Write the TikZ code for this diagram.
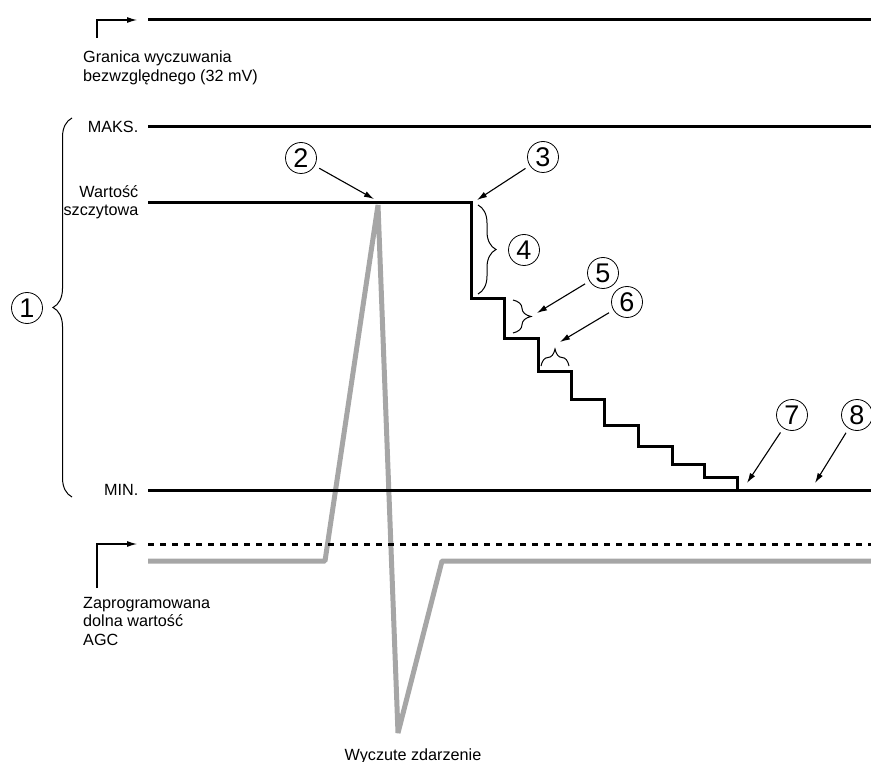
\documentclass[tikz,border=0pt]{standalone}
\usepackage{fontspec}
\setmainfont{Liberation Sans}
\usetikzlibrary{decorations.pathreplacing,arrows.meta}
\definecolor{signalgray}{gray}{0.65}

\begin{document}
\begin{tikzpicture}[x=1pt,y=-1pt,line join=miter]
    \tikzstyle{level}=[line width=3pt]
    \tikzstyle{signal}=[line width=5pt,draw=signalgray,line join=bevel]
    \tikzstyle{pointer}=[-{Latex[length=10pt,width=6pt]},line width=1.1pt]
    \tikzstyle{callout}=[circle,draw,line width=0.8pt,minimum size=31pt,inner sep=0pt,font=\fontsize{27}{27}\selectfont]
    \tikzstyle{lbl}=[font=\fontsize{16.2}{18.5}\selectfont,inner sep=0pt]
    \tikzstyle{annot}=[lbl,anchor=east,align=right,inner xsep=9.5pt]
    \tikzstyle{curly}=[decorate,line width=1pt]

    \useasboundingbox (0,0) rectangle (871,762);

    % Draw the sensed event signal underneath everything
    \draw[signal] (148,561) -- (325,561) -- (378,205) -- (398,733) -- (442,561) -- (871,561);

    % Draw the level labels and their lines
    \node[annot] (maks) at (148,127) {MAKS.};
    \node[annot] (wart) at (148,202) {Wartość\\szczytowa};
    \node[annot] (min) at (148,490) {MIN.};
    \coordinate (abs-start) at (148,20);
    \coordinate (agc-start) at (148,544);
    \foreach \name / \y in {abs/20,maks/127,min/490,agc/544}
        \coordinate (\name-end) at (871,\y);

    \draw[level] (abs-start) -- (abs-end);
    \draw[level] (maks.east) -- (maks-end);
    \draw[level] (min.east) -- (min-end);
    \draw[level,dash pattern=on 6pt off 6pt] (agc-start) -- (agc-end);

    % Peak value, then the decay in steps down to MIN.
    \coordinate (drop) at (471,203);
    \coordinate (step-foot) at (737,490);
    \draw[level] (wart.east |- drop) -- (drop)
        \foreach \x / \y in {504/299,538/339,571/371,604/399,638/425,672/446,704/464,737/477}
            { |- (\x,\y) }
        -- (step-foot);

    % Text on the left with its pointers
    \node[lbl,anchor=north west,align=left] (granica) at (83,51)
        {Granica wyczuwania\\bezwzględnego (32 mV)};
    \draw[pointer,shorten >=11pt] ([xshift=14pt,yshift=13pt]granica.north west) |- (abs-start);

    \node[lbl,anchor=north west,align=left] (zaprog) at (83,597)
        {Zaprogramowana\\dolna wartość\\AGC};
    \draw[pointer,shorten >=11pt] ([xshift=14pt,yshift=9pt]zaprog.north west) |- (agc-start);

    \node[lbl,anchor=base] (event) at (413,760) {Wyczute zdarzenie};

    % Braces
    \draw[curly,decoration={brace,amplitude=19pt}] (72,497) -- (72,118);
    \draw[curly,decoration={brace,amplitude=18pt}] (478,205) -- (478,294);
    \draw[curly,decoration={brace,amplitude=18pt}] (513,300) -- (513,333);
    \draw[curly,decoration={brace,amplitude=17pt}] (541,366) -- (569,366);

    % Numbered callouts
    \node[callout] (c1) at (27,308) {1};
    \node[callout] (c2) at (301,158) {2};
    \node[callout] (c3) at (543,157) {3};
    \node[callout] (c4) at (524,250) {4};
    \node[callout] (c5) at (603,273) {5};
    \node[callout] (c6) at (627,302) {6};
    \node[callout] (c7) at (792,415) {7};
    \node[callout] (c8) at (857,415) {8};

    % Point the callouts at their spots
    \foreach \name / \tx / \ty in {2/374/199,3/477/200,5/537/313,6/560/342,7/747/483,8/815/483}
    {
        \coordinate (t\name) at (\tx,\ty);
        \draw[pointer,shorten <=5pt] (c\name) -- (t\name);
    }
\end{tikzpicture}
\end{document}
